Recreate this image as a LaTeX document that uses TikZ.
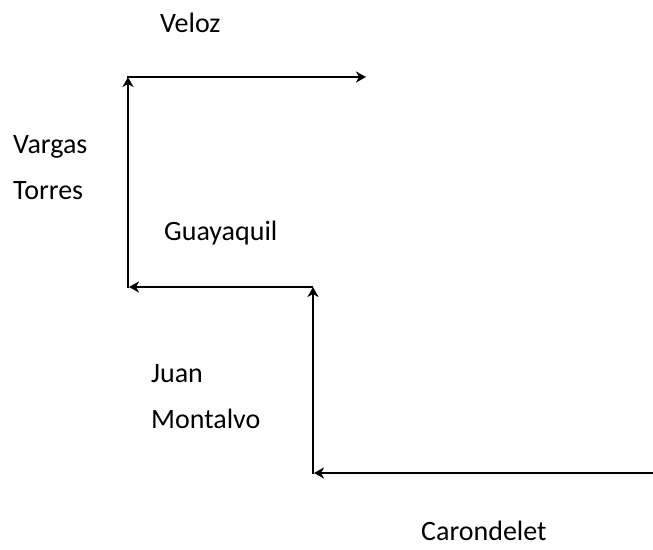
\documentclass[tikz,border=0pt]{standalone}
\usepackage{fontspec}
\setmainfont{Carlito}
\usetikzlibrary{arrows.meta, positioning}
\tikzset{
  calle/.style={font=\fontsize{28}{46}\selectfont, align=left, inner sep=0pt},
  ruta/.style={line width=2pt, -{Stealth[length=10pt, width=11pt, inset=3pt]}}
}
\begin{document}
\begin{tikzpicture}[x=1pt, y=-1pt]
    % Marco del dibujo
    \useasboundingbox (0,0) rectangle (653,549);

    % Esquinas del recorrido
    \coordinate (inicio) at (653,473);
    \coordinate (esqA) at (313,473);
    \coordinate (esqB) at (313,287);
    \coordinate (esqC) at (128,287);
    \coordinate (esqD) at (128,77);
    \coordinate (fin) at (366,77);

    % Nombres de las calles
    \node (veloz) [calle, anchor=base west] at (160,32) {Veloz};
    \node (vargas) [calle, anchor=base west] at (13,199) {Vargas\\Torres};
    \node (guayaquil) [calle, anchor=base west] at (164,240) {Guayaquil};
    \node (juan) [calle, anchor=base west] at (151,428) {Juan\\Montalvo};
    \node (carondelet) [calle, anchor=base west] at (421,540) {Carondelet};

    % Tramos del recorrido
    \draw [ruta] (inicio) -- ([xshift=1pt]esqA);
    \draw [ruta] ([yshift=-1pt]esqA) -- (esqB);
    \draw [ruta] (esqB) -- ([xshift=1pt]esqC);
    \draw [ruta] ([yshift=-1pt]esqC) -- (esqD);
    \draw [ruta] ([xshift=-1pt]esqD) -- (fin);
\end{tikzpicture}
\end{document}
